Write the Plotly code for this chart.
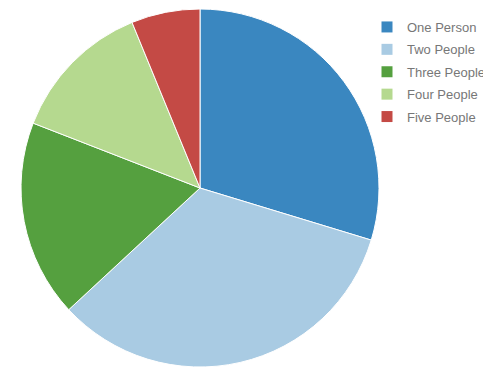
import plotly.graph_objects as go

labels = ["One Person", "Two People", "Three People", "Four People", "Five People"]
values = [29.7, 33.4, 17.8, 12.9, 6.2]
colors = ["#3a87c0", "#a9cbe3", "#55a03f", "#b5d98f", "#c44a45"]

# page has an 8px body margin; figure sized to fill the 491x380 window
OFF = 8
W, H = 491 - OFF, 380 - OFF
cx, cy, r = 200 - OFF, 188 - OFF, 179

fig = go.Figure()
fig.add_trace(go.Pie(
    labels=labels, values=values, sort=False, direction="clockwise", rotation=0,
    marker=dict(colors=colors, line=dict(color="white", width=1)),
    textinfo="none", hoverinfo="label+percent", showlegend=False,
    domain=dict(x=[max(0, (cx - r) / W), min(1, (cx + r) / W)],
                y=[max(0, 1 - (cy + r) / H), min(1, 1 - (cy - r) / H)]),
))
for lab, col in zip(labels, colors):
    fig.add_trace(go.Scatter(
        x=[None], y=[None], mode="markers", name=lab, legendgroup=lab,
        marker=dict(symbol="square", size=11, color=col), hoverinfo="skip",
    ))
fig.update_layout(
    width=W, height=H, margin=dict(l=0, r=0, t=0, b=0, autoexpand=False),
    paper_bgcolor="white", plot_bgcolor="white",
    xaxis=dict(visible=False, domain=[0.99, 1]), yaxis=dict(visible=False, domain=[0.99, 1]),
    legend=dict(x=359 / W, y=1 - 4 / H, xanchor="left", yanchor="top",
                traceorder="grouped", tracegroupgap=2.5,
                font=dict(family="Liberation Sans, Arial, sans-serif", size=13, color="#777"),
                itemwidth=30, bgcolor="rgba(0,0,0,0)"),
)
fig.write_html("out.html")
